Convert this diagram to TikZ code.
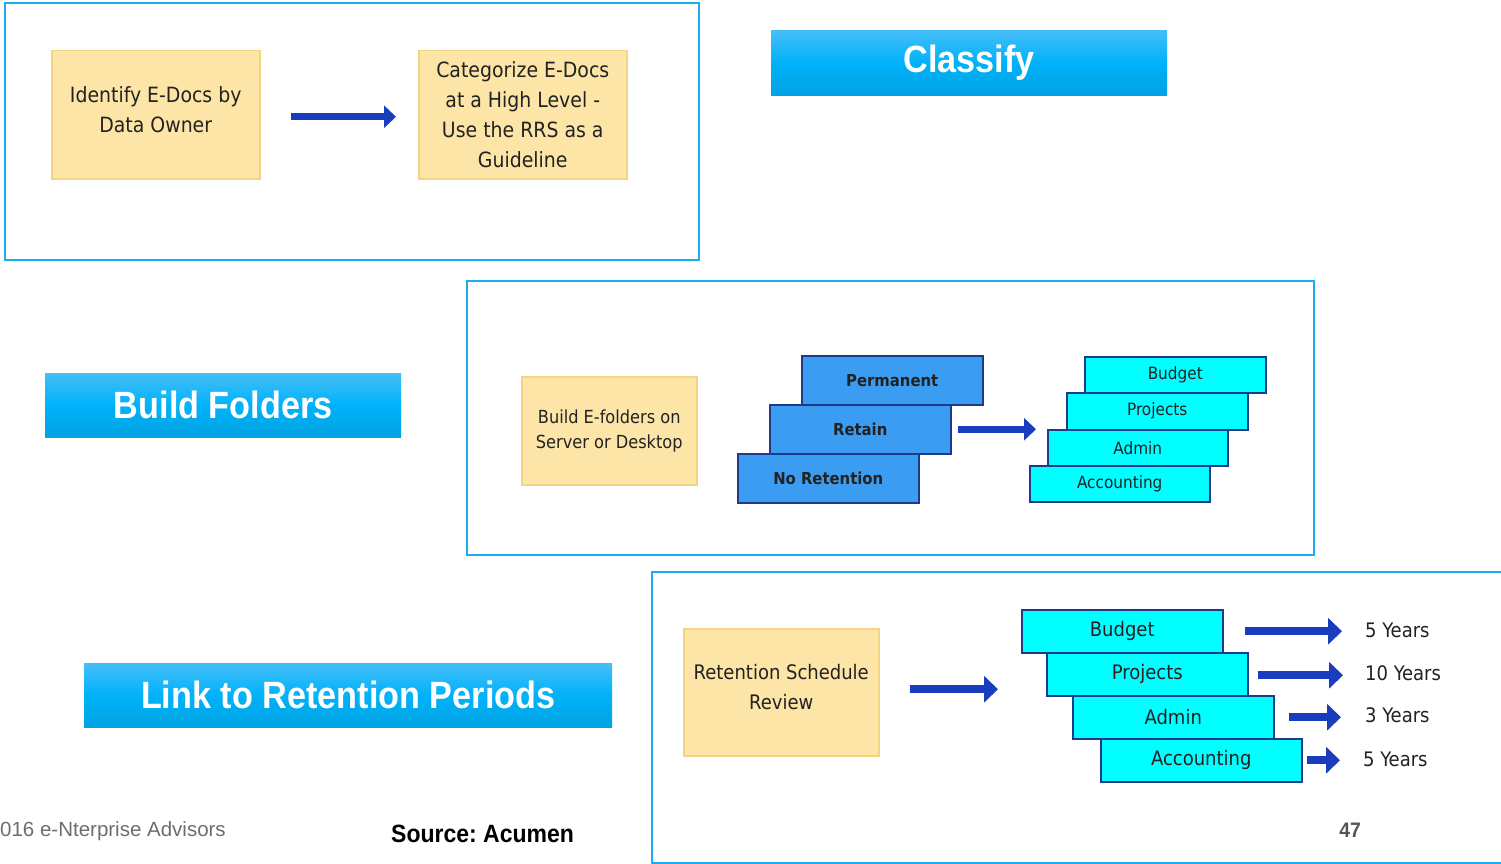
\documentclass[tikz,border=0pt]{standalone}
\usepackage{fontspec}
\setmainfont{DejaVu Sans Condensed}
\newfontfamily\headfont[FakeStretch=0.9]{Liberation Sans Bold}
\newfontfamily\srcfont[FakeStretch=0.92]{Liberation Sans Bold}
\newfontfamily\footfont{Liberation Sans}
\usetikzlibrary{arrows.meta,calc}
\frenchspacing
\definecolor{frameblue}{HTML}{1AAEEF}
\definecolor{notefill}{HTML}{FCE5A6}
\definecolor{notedraw}{HTML}{F3D480}
\definecolor{arrowblue}{HTML}{1A3DBD}
\definecolor{stackblue}{HTML}{3A9DF2}
\definecolor{stackcyan}{HTML}{00FFFF}
\definecolor{stackedge}{HTML}{1F3A8A}
\definecolor{bannertop}{HTML}{45BEF8}
\definecolor{bannermid}{HTML}{00B2FA}
\definecolor{bannerbot}{HTML}{00A2E2}
\definecolor{textdark}{HTML}{222222}
\tikzset{
  frame/.style={draw=frameblue, line width=2pt, fill=white, anchor=north west, inner sep=0pt},
  note/.style={draw=notedraw, line width=1.5pt, fill=notefill, anchor=north west, inner sep=0pt, align=center, text=textdark},
  banner/.style={top color=bannertop, bottom color=bannerbot, middle color=bannermid, anchor=north west, inner sep=0pt, text=white, font=\headfont\fontsize{38}{40}\selectfont},
  bluebox/.style={draw=stackedge, line width=1.5pt, fill=stackblue, anchor=north west, inner sep=0pt, text=textdark, font=\bfseries\fontsize{16.5}{20}\selectfont},
  cyanbox/.style={draw=stackedge, line width=1.5pt, fill=stackcyan, anchor=north west, inner sep=0pt, text=textdark},
  bigarrow/.style={draw=arrowblue, line width=7pt, -{Triangle[length=12pt,width=22pt]}},
  yeararrow/.style={draw=arrowblue, line width=8pt, -{Triangle[length=14pt,width=26pt]}},
  yearlabel/.style={anchor=west, inner sep=0pt, text=textdark, font=\fontsize{20}{24}\selectfont}
}
\begin{document}
\begin{tikzpicture}[x=1pt,y=-1pt]
\useasboundingbox (0,0) rectangle (1501,864);
\clip (0,0) rectangle (1501,864);
\fill[white] (0,0) rectangle (1501,864);

% ---------- Classify ----------
\node[frame, minimum width=694pt, minimum height=257pt] (f1) at (4,2) {};
\node[note, minimum width=208pt, minimum height=128pt, font=\fontsize{21}{30}\selectfont] (idn) at (51,50) {Identify E-Docs by\\Data Owner\\[-20pt]};
\node[note, minimum width=208pt, minimum height=128pt, font=\fontsize{21}{30}\selectfont] (cat) at (418,50) {Categorize E-Docs\\at a High Level -\\Use the RRS as a\\Guideline};
\draw[bigarrow, shorten <=30pt, shorten >=22pt] ($(idn.east)+(0,2)$) -- ($(cat.west)+(0,2)$);
\node[banner, minimum width=396pt, minimum height=65pt] (cls) at (771,30) {Classify};

% ---------- Build Folders ----------
\node[banner, minimum width=356pt, minimum height=64pt] (bld) at (45,373) {Build Folders};
\node[frame, minimum width=847pt, minimum height=274pt] (f2) at (466,280) {};
\node[note, minimum width=175pt, minimum height=108pt, font=\fontsize{18}{25}\selectfont] (efo) at (521,376) {Build E-folders on\\Server or Desktop};
\node[bluebox, minimum width=181pt, minimum height=49pt] (perm) at (801,355) {Permanent};
\node[bluebox, minimum width=181pt, minimum height=49pt] (ret) at (769,404) {Retain};
\node[bluebox, minimum width=181pt, minimum height=49pt] (nor) at (737,453) {No Retention};
\node[cyanbox, minimum width=181pt, minimum height=36pt, font=\fontsize{17}{20}\selectfont] (budA) at (1084,356) {Budget};
\node[cyanbox, minimum width=181pt, minimum height=37pt, font=\fontsize{17}{20}\selectfont] (proA) at (1066,392) {Projects};
\node[cyanbox, minimum width=180pt, minimum height=36pt, font=\fontsize{17}{20}\selectfont] (admA) at (1047,429) {Admin};
\node[cyanbox, minimum width=180pt, minimum height=36pt, font=\fontsize{17}{20}\selectfont] (accA) at (1029,465) {Accounting};
\draw[bigarrow, shorten <=6pt, shorten >=11pt] (ret.east) -- (ret.east -| admA.west);

% ---------- Link to Retention Periods ----------
\node[banner, minimum width=528pt, minimum height=64pt] (lnk) at (84,663) {Link to Retention Periods};
\node[frame, minimum width=880pt, minimum height=291pt] (f3) at (651,571) {};
\node[note, minimum width=195pt, minimum height=127pt, font=\fontsize{20}{30}\selectfont] (rsr) at (683,628) {Retention Schedule\\Review\\[-20pt]};
\node[cyanbox, minimum width=201pt, minimum height=43pt, font=\fontsize{20}{24}\selectfont] (budB) at (1021,609) {Budget};
\node[cyanbox, minimum width=201pt, minimum height=43pt, font=\fontsize{20}{24}\selectfont] (proB) at (1046,652) {Projects};
\node[cyanbox, minimum width=201pt, minimum height=43pt, font=\fontsize{20}{24}\selectfont] (admB) at (1072,695) {Admin};
\node[cyanbox, minimum width=201pt, minimum height=43pt, font=\fontsize{20}{24}\selectfont] (accB) at (1100,738) {Accounting};
\coordinate (rsrOut) at ($(rsr.east)+(0,-3)$);
\draw[yeararrow, shorten <=30pt, shorten >=23pt] (rsrOut) -- (rsrOut -| budB.west);

\node[yearlabel] (y1) at (1365,630) {5 Years};
\node[yearlabel] (y2) at (1365,673) {10 Years};
\node[yearlabel] (y3) at (1365,715) {3 Years};
\node[yearlabel] (y4) at (1363,759) {5 Years};
\draw[yeararrow, shorten <=21pt, shorten >=23pt] (budB.east) -- (budB.east -| y1.west);
\draw[yeararrow, shorten <=9pt, shorten >=22pt] ($(proB.east)+(0,1)$) -- ($(proB.east -| y2.west)+(0,1)$);
\draw[yeararrow, shorten <=14pt, shorten >=24pt] (admB.east) -- (admB.east -| y3.west);
\draw[yeararrow, shorten <=4pt, shorten >=23pt] (accB.east) -- (accB.east -| y4.west);

% ---------- footer ----------
\node[anchor=west, inner sep=0pt, text={rgb,255:red,110;green,110;blue,110}, font=\footfont\fontsize{20.5}{24}\selectfont] (cpy) at (0,831) {016 e-Nterprise Advisors};
\node[anchor=west, inner sep=0pt, text=black, font=\srcfont\fontsize{25}{28}\selectfont] (src) at (391,834) {Source: Acumen};
\node[anchor=center, inner sep=0pt, text={rgb,255:red,85;green,85;blue,85}, font=\srcfont\fontsize{21}{24}\selectfont] (pg) at (1350,830) {47};
\end{tikzpicture}
\end{document}
